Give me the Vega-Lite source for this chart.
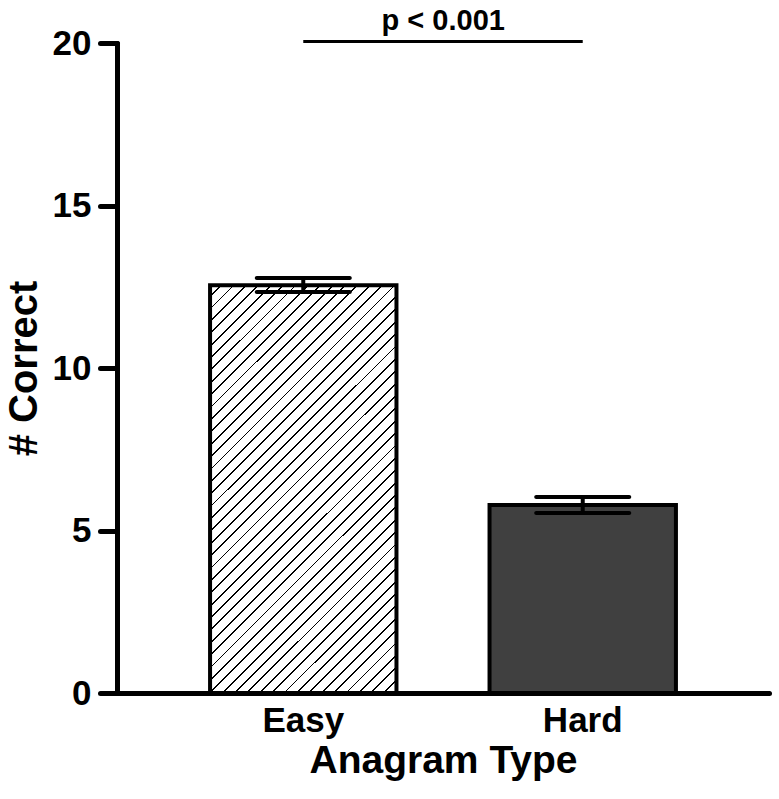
{
  "$schema": "https://vega.github.io/schema/vega-lite/v6.json",
  "autosize": "none",
  "width": 652,
  "height": 650,
  "padding": {"left": 117, "top": 43, "right": 10, "bottom": 106},
  "background": "white",
  "config": {
    "view": {"stroke": null},
    "font": "Liberation Sans"
  },
  "datasets": {
    "bars": [
      {"type": "Easy", "mean": 12.55, "lower": 12.34, "upper": 12.77},
      {"type": "Hard", "mean": 5.785, "lower": 5.54, "upper": 6.03}
    ],
    "sig": [
      {"from": "Easy", "to": "Hard", "y": 20.05, "label": "p < 0.001"}
    ]
  },
  "encoding": {
    "x": {
      "field": "type",
      "type": "nominal",
      "sort": ["Easy", "Hard"],
      "scale": {"type": "band", "domain": ["Easy", "Hard"], "paddingInner": 0.333, "paddingOuter": 0.333},
      "axis": {
        "title": "Anagram Type",
        "labelAngle": 0,
        "ticks": false,
        "labelPadding": 10,
        "labelFont": "Liberation Sans",
        "labelFontWeight": "bold",
        "labelFontSize": 35,
        "labelColor": "black",
        "titleFont": "Liberation Sans",
        "titleFontWeight": "bold",
        "titleFontSize": 39,
        "titleColor": "black",
        "titlePadding": 3,
        "domainColor": "black",
        "domainWidth": 5,
        "domainCap": "round",
        "grid": false
      }
    }
  },
  "layer": [
    {
      "data": {"name": "bars"},
      "transform": [{"filter": "datum.type === 'Easy'"}],
      "mark": {
        "type": "bar",
        "stroke": "black",
        "strokeWidth": 4,
        "fill": {
          "gradient": "linear",
          "x1": 0, "y1": 0, "x2": 0.5504, "y2": 1.2053,
          "stops": [
            {"offset": 0, "color": "#fff"}, {"offset": 0.01771, "color": "#fff"}, {"offset": 0.01771, "color": "#000"}, {"offset": 0.02083, "color": "#000"},
            {"offset": 0.02083, "color": "#fff"}, {"offset": 0.03854, "color": "#fff"}, {"offset": 0.03854, "color": "#000"}, {"offset": 0.04167, "color": "#000"},
            {"offset": 0.04167, "color": "#fff"}, {"offset": 0.05938, "color": "#fff"}, {"offset": 0.05938, "color": "#000"}, {"offset": 0.0625, "color": "#000"},
            {"offset": 0.0625, "color": "#fff"}, {"offset": 0.08021, "color": "#fff"}, {"offset": 0.08021, "color": "#000"}, {"offset": 0.08333, "color": "#000"},
            {"offset": 0.08333, "color": "#fff"}, {"offset": 0.10104, "color": "#fff"}, {"offset": 0.10104, "color": "#000"}, {"offset": 0.10417, "color": "#000"},
            {"offset": 0.10417, "color": "#fff"}, {"offset": 0.12188, "color": "#fff"}, {"offset": 0.12188, "color": "#000"}, {"offset": 0.125, "color": "#000"},
            {"offset": 0.125, "color": "#fff"}, {"offset": 0.14271, "color": "#fff"}, {"offset": 0.14271, "color": "#000"}, {"offset": 0.14583, "color": "#000"},
            {"offset": 0.14583, "color": "#fff"}, {"offset": 0.16354, "color": "#fff"}, {"offset": 0.16354, "color": "#000"}, {"offset": 0.16667, "color": "#000"},
            {"offset": 0.16667, "color": "#fff"}, {"offset": 0.18438, "color": "#fff"}, {"offset": 0.18438, "color": "#000"}, {"offset": 0.1875, "color": "#000"},
            {"offset": 0.1875, "color": "#fff"}, {"offset": 0.20521, "color": "#fff"}, {"offset": 0.20521, "color": "#000"}, {"offset": 0.20833, "color": "#000"},
            {"offset": 0.20833, "color": "#fff"}, {"offset": 0.22604, "color": "#fff"}, {"offset": 0.22604, "color": "#000"}, {"offset": 0.22917, "color": "#000"},
            {"offset": 0.22917, "color": "#fff"}, {"offset": 0.24688, "color": "#fff"}, {"offset": 0.24688, "color": "#000"}, {"offset": 0.25, "color": "#000"},
            {"offset": 0.25, "color": "#fff"}, {"offset": 0.26771, "color": "#fff"}, {"offset": 0.26771, "color": "#000"}, {"offset": 0.27083, "color": "#000"},
            {"offset": 0.27083, "color": "#fff"}, {"offset": 0.28854, "color": "#fff"}, {"offset": 0.28854, "color": "#000"}, {"offset": 0.29167, "color": "#000"},
            {"offset": 0.29167, "color": "#fff"}, {"offset": 0.30938, "color": "#fff"}, {"offset": 0.30938, "color": "#000"}, {"offset": 0.3125, "color": "#000"},
            {"offset": 0.3125, "color": "#fff"}, {"offset": 0.33021, "color": "#fff"}, {"offset": 0.33021, "color": "#000"}, {"offset": 0.33333, "color": "#000"},
            {"offset": 0.33333, "color": "#fff"}, {"offset": 0.35104, "color": "#fff"}, {"offset": 0.35104, "color": "#000"}, {"offset": 0.35417, "color": "#000"},
            {"offset": 0.35417, "color": "#fff"}, {"offset": 0.37188, "color": "#fff"}, {"offset": 0.37188, "color": "#000"}, {"offset": 0.375, "color": "#000"},
            {"offset": 0.375, "color": "#fff"}, {"offset": 0.39271, "color": "#fff"}, {"offset": 0.39271, "color": "#000"}, {"offset": 0.39583, "color": "#000"},
            {"offset": 0.39583, "color": "#fff"}, {"offset": 0.41354, "color": "#fff"}, {"offset": 0.41354, "color": "#000"}, {"offset": 0.41667, "color": "#000"},
            {"offset": 0.41667, "color": "#fff"}, {"offset": 0.43438, "color": "#fff"}, {"offset": 0.43438, "color": "#000"}, {"offset": 0.4375, "color": "#000"},
            {"offset": 0.4375, "color": "#fff"}, {"offset": 0.45521, "color": "#fff"}, {"offset": 0.45521, "color": "#000"}, {"offset": 0.45833, "color": "#000"},
            {"offset": 0.45833, "color": "#fff"}, {"offset": 0.47604, "color": "#fff"}, {"offset": 0.47604, "color": "#000"}, {"offset": 0.47917, "color": "#000"},
            {"offset": 0.47917, "color": "#fff"}, {"offset": 0.49688, "color": "#fff"}, {"offset": 0.49688, "color": "#000"}, {"offset": 0.5, "color": "#000"},
            {"offset": 0.5, "color": "#fff"}, {"offset": 0.51771, "color": "#fff"}, {"offset": 0.51771, "color": "#000"}, {"offset": 0.52083, "color": "#000"},
            {"offset": 0.52083, "color": "#fff"}, {"offset": 0.53854, "color": "#fff"}, {"offset": 0.53854, "color": "#000"}, {"offset": 0.54167, "color": "#000"},
            {"offset": 0.54167, "color": "#fff"}, {"offset": 0.55938, "color": "#fff"}, {"offset": 0.55938, "color": "#000"}, {"offset": 0.5625, "color": "#000"},
            {"offset": 0.5625, "color": "#fff"}, {"offset": 0.58021, "color": "#fff"}, {"offset": 0.58021, "color": "#000"}, {"offset": 0.58333, "color": "#000"},
            {"offset": 0.58333, "color": "#fff"}, {"offset": 0.60104, "color": "#fff"}, {"offset": 0.60104, "color": "#000"}, {"offset": 0.60417, "color": "#000"},
            {"offset": 0.60417, "color": "#fff"}, {"offset": 0.62188, "color": "#fff"}, {"offset": 0.62188, "color": "#000"}, {"offset": 0.625, "color": "#000"},
            {"offset": 0.625, "color": "#fff"}, {"offset": 0.64271, "color": "#fff"}, {"offset": 0.64271, "color": "#000"}, {"offset": 0.64583, "color": "#000"},
            {"offset": 0.64583, "color": "#fff"}, {"offset": 0.66354, "color": "#fff"}, {"offset": 0.66354, "color": "#000"}, {"offset": 0.66667, "color": "#000"},
            {"offset": 0.66667, "color": "#fff"}, {"offset": 0.68438, "color": "#fff"}, {"offset": 0.68438, "color": "#000"}, {"offset": 0.6875, "color": "#000"},
            {"offset": 0.6875, "color": "#fff"}, {"offset": 0.70521, "color": "#fff"}, {"offset": 0.70521, "color": "#000"}, {"offset": 0.70833, "color": "#000"},
            {"offset": 0.70833, "color": "#fff"}, {"offset": 0.72604, "color": "#fff"}, {"offset": 0.72604, "color": "#000"}, {"offset": 0.72917, "color": "#000"},
            {"offset": 0.72917, "color": "#fff"}, {"offset": 0.74688, "color": "#fff"}, {"offset": 0.74688, "color": "#000"}, {"offset": 0.75, "color": "#000"},
            {"offset": 0.75, "color": "#fff"}, {"offset": 0.76771, "color": "#fff"}, {"offset": 0.76771, "color": "#000"}, {"offset": 0.77083, "color": "#000"},
            {"offset": 0.77083, "color": "#fff"}, {"offset": 0.78854, "color": "#fff"}, {"offset": 0.78854, "color": "#000"}, {"offset": 0.79167, "color": "#000"},
            {"offset": 0.79167, "color": "#fff"}, {"offset": 0.80938, "color": "#fff"}, {"offset": 0.80938, "color": "#000"}, {"offset": 0.8125, "color": "#000"},
            {"offset": 0.8125, "color": "#fff"}, {"offset": 0.83021, "color": "#fff"}, {"offset": 0.83021, "color": "#000"}, {"offset": 0.83333, "color": "#000"},
            {"offset": 0.83333, "color": "#fff"}, {"offset": 0.85104, "color": "#fff"}, {"offset": 0.85104, "color": "#000"}, {"offset": 0.85417, "color": "#000"},
            {"offset": 0.85417, "color": "#fff"}, {"offset": 0.87188, "color": "#fff"}, {"offset": 0.87188, "color": "#000"}, {"offset": 0.875, "color": "#000"},
            {"offset": 0.875, "color": "#fff"}, {"offset": 0.89271, "color": "#fff"}, {"offset": 0.89271, "color": "#000"}, {"offset": 0.89583, "color": "#000"},
            {"offset": 0.89583, "color": "#fff"}, {"offset": 0.91354, "color": "#fff"}, {"offset": 0.91354, "color": "#000"}, {"offset": 0.91667, "color": "#000"},
            {"offset": 0.91667, "color": "#fff"}, {"offset": 0.93438, "color": "#fff"}, {"offset": 0.93438, "color": "#000"}, {"offset": 0.9375, "color": "#000"},
            {"offset": 0.9375, "color": "#fff"}, {"offset": 0.95521, "color": "#fff"}, {"offset": 0.95521, "color": "#000"}, {"offset": 0.95833, "color": "#000"},
            {"offset": 0.95833, "color": "#fff"}, {"offset": 0.97604, "color": "#fff"}, {"offset": 0.97604, "color": "#000"}, {"offset": 0.97917, "color": "#000"},
            {"offset": 0.97917, "color": "#fff"}, {"offset": 0.99688, "color": "#fff"}, {"offset": 0.99688, "color": "#000"}, {"offset": 1, "color": "#000"}
          ]
        }
      },
      "encoding": {
        "y": {
          "field": "mean",
          "type": "quantitative",
          "scale": {"domain": [0, 20], "nice": false, "zero": true},
          "axis": {
            "title": "# Correct",
            "values": [0, 5, 10, 15, 20],
            "grid": false,
            "domainColor": "black",
            "domainWidth": 5,
            "domainCap": "round",
            "tickColor": "black",
            "tickWidth": 5,
            "tickSize": 17,
            "tickCap": "round",
            "labelPadding": 9,
            "labelFont": "Liberation Sans",
            "labelFontWeight": "bold",
            "labelFontSize": 35,
            "labelColor": "black",
            "titleFont": "Liberation Sans",
            "titleFontWeight": "bold",
            "titleFontSize": 40,
            "titleColor": "black",
            "titlePadding": 8
          }
        }
      }
    },
    {
      "data": {"name": "bars"},
      "transform": [{"filter": "datum.type === 'Hard'"}],
      "mark": {"type": "bar", "fill": "#404040", "stroke": "black", "strokeWidth": 4},
      "encoding": {
        "y": {"field": "mean", "type": "quantitative"}
      }
    },
    {
      "data": {"name": "bars"},
      "mark": {"type": "rule", "color": "black", "strokeWidth": 4},
      "encoding": {
        "y": {"field": "lower", "type": "quantitative"},
        "y2": {"field": "upper"}
      }
    },
    {
      "data": {"name": "bars"},
      "mark": {"type": "tick", "color": "black", "size": 97, "thickness": 4, "cornerRadius": 2, "orient": "horizontal", "opacity": 1},
      "encoding": {
        "y": {"field": "upper", "type": "quantitative"}
      }
    },
    {
      "data": {"name": "bars"},
      "mark": {"type": "tick", "color": "black", "size": 97, "thickness": 4, "cornerRadius": 2, "orient": "horizontal", "opacity": 1},
      "encoding": {
        "y": {"field": "lower", "type": "quantitative"}
      }
    },
    {
      "data": {"name": "sig"},
      "mark": {"type": "rule", "color": "black", "strokeWidth": 3},
      "encoding": {
        "x": {"field": "from", "type": "nominal"},
        "x2": {"field": "to"},
        "y": {"field": "y", "type": "quantitative"}
      }
    },
    {
      "data": {"name": "sig"},
      "mark": {"type": "text", "font": "Liberation Sans", "fontWeight": "bold", "fontSize": 29, "color": "black", "baseline": "alphabetic", "align": "center", "dx": 140, "dy": -11},
      "encoding": {
        "x": {"field": "from", "type": "nominal"},
        "y": {"field": "y", "type": "quantitative"},
        "text": {"field": "label"}
      }
    }
  ]
}
